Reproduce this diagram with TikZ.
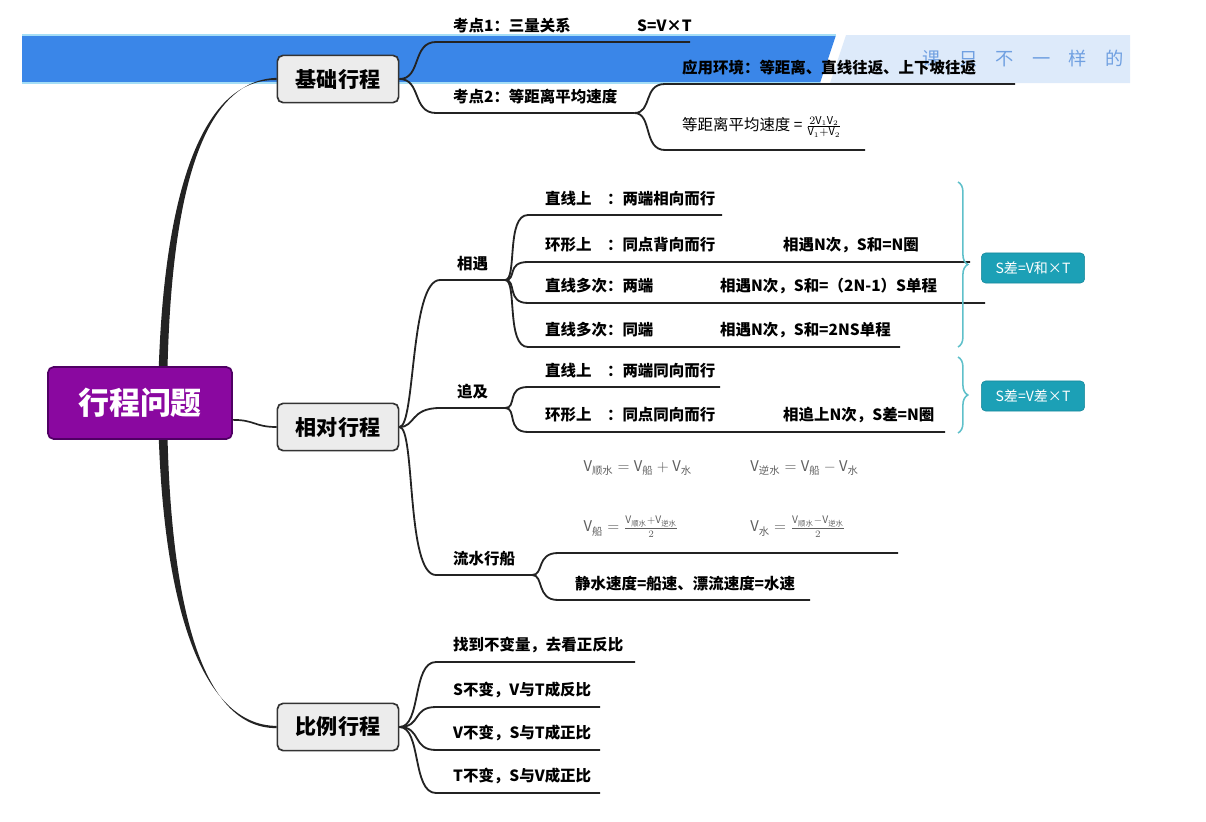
\documentclass[tikz,border=0pt]{standalone}
\usepackage{amsmath}
\usepackage{fontspec}
\setmainfont{Noto Sans CJK SC}
\usepackage{xcolor}
\usepackage{tikz}
\usetikzlibrary{positioning,calc,decorations.pathreplacing}

\definecolor{themepurple}{RGB}{138,8,160}
\definecolor{themedark}{RGB}{80,0,100}
\definecolor{boxgray}{RGB}{236,236,236}
\definecolor{linegray}{RGB}{35,35,35}
\definecolor{resteal}{RGB}{28,160,182}
\definecolor{braceteal}{RGB}{95,192,202}
\definecolor{bannerblue}{RGB}{58,134,232}
\definecolor{bannerlight}{RGB}{221,234,250}
\definecolor{bannerline}{RGB}{165,222,246}
\definecolor{wmblue}{RGB}{112,160,225}
\definecolor{formulagray}{RGB}{95,95,95}

\begin{document}
\begin{tikzpicture}[x=0.025cm, y=-0.025cm,
    topic/.style={rectangle, rounded corners=4pt, draw=black!80, line width=1.2pt, fill=boxgray, minimum width=3.03cm, minimum height=1.18cm, font=\fontsize{15}{15}\selectfont\bfseries},
    theme/.style={rectangle, rounded corners=4pt, draw=themedark, line width=1.2pt, fill=themepurple, text=white, minimum width=4.6cm, minimum height=1.8cm, font=\fontsize{22}{22}\selectfont\bfseries},
    leaf/.style={anchor=south west, inner xsep=12pt, inner ysep=6pt, font=\fontsize{11}{11}\selectfont\bfseries},
    formula/.style={anchor=south west, inner xsep=18pt, inner ysep=11pt, text=formulagray, font=\fontsize{10.5}{10.5}\selectfont, align=left},
    branch/.style={draw=linegray, line width=1.3pt},
    result/.style={rectangle, rounded corners=3pt, fill=resteal, draw=resteal!85!black, text=white, minimum width=2.58cm, minimum height=0.75cm, font=\fontsize{10}{10}\selectfont},
    bracket/.style={decorate, decoration={brace, amplitude=7pt}, draw=braceteal, line width=1.1pt}
]
\useasboundingbox (0,0) rectangle (1206,822);

% Banner
\fill[bannerblue] (22,35) -- (836,35) -- (820,83) -- (22,83) -- cycle;
\fill[bannerlight] (846,35) -- (1130,35) -- (1130,83) -- (830,83) -- cycle;
\draw[bannerline, line width=0.8pt] (22,35) -- (836,35) (22,83) -- (820,83);
\node[text=wmblue, font=\fontsize{13}{13}\selectfont] (wm) at (1023,59) {课\hspace{13pt}只\hspace{13pt}不\hspace{13pt}一\hspace{13pt}样\hspace{13pt}的};

% Topics
\node[topic] (jc) at (338,79) {基础行程};
\node[topic] (xd) at (338,427) {相对行程};
\node[topic] (bl) at (338,727) {比例行程};

% Trunk
\fill[linegray] (158,403) .. controls (160,200) and (200,77.5) .. ([yshift=-0.8pt]jc.west) -- ([yshift=0.8pt]jc.west) .. controls (200,80.5) and (168,200) .. (167,403) -- cycle;
\fill[linegray] (158,403) .. controls (160,600) and (200,725.5) .. ([yshift=0.8pt]bl.west) -- ([yshift=-0.8pt]bl.west) .. controls (200,728.5) and (168,600) .. (167,403) -- cycle;

\node[theme] (root) at (140,403) {行程问题};
\draw[branch, line width=1.2pt] ([yshift=-12pt]root.east) .. controls +(22,0) and +(-22,0) .. (xd.west);

% Basic
\node[leaf] (k1) at (436,42) {\makebox[4.6cm][l]{考点1：三量关系}S=V×T};
\node[leaf] (k2) at (436,113) {考点2：等距离平均速度};
\node[leaf] (app) at (665,84) {应用环境：等距离、直线往返、上下坡往返};
\node[leaf, font=\fontsize{11}{11}\selectfont, inner ysep=9pt] (avg) at (665,150) {等距离平均速度 = $\frac{2\mathrm{V}_1\mathrm{V}_2}{\mathrm{V}_1+\mathrm{V}_2}$};

\draw[branch] (jc.east) .. controls +(22,0) and +(-24,0) .. (k1.south west) -- ++(254,0);
\draw[branch] (jc.east) .. controls +(22,0) and +(-24,0) .. (k2.south west) -- (k2.south east);
\draw[branch] (k2.south east) .. controls +(18,0) and +(-22,0) .. (app.south west) -- ++(350,0);
\draw[branch] (k2.south east) .. controls +(18,0) and +(-22,0) .. (avg.south west) -- ++(200,0);

% Relative
\node[leaf] (xy) at (440,280) {相遇};
\node[leaf] (zj) at (440,408) {追及};
\node[leaf] (ls) at (436,575) {流水行船};

\node[leaf] (a1) at (528,215) {直线上　：两端相向而行};
\node[leaf] (a2) at (528,262) {\makebox[5.95cm][l]{环形上　：同点背向而行}相遇N次，S和=N圈};
\node[leaf] (a3) at (528,303) {\makebox[4.375cm][l]{直线多次：两端}相遇N次，S和=（2N-1）S单程};
\node[leaf] (a4) at (528,347) {\makebox[4.375cm][l]{直线多次：同端}相遇N次，S和=2NS单程};
\node[leaf] (b1) at (528,387) {直线上　：两端同向而行};
\node[leaf] (b2) at (528,432) {\makebox[5.95cm][l]{环形上　：同点同向而行}相追上N次，S差=N圈};
\node[formula] (c1) at (558,553) {\makebox[4.17cm][l]{$\mathrm{V}_{\text{顺水}} = \mathrm{V}_{\text{船}} + \mathrm{V}_{\text{水}}$}$\mathrm{V}_{\text{逆水}} = \mathrm{V}_{\text{船}} - \mathrm{V}_{\text{水}}$\\[28pt]
  \makebox[4.17cm][l]{$\mathrm{V}_{\text{船}} = \frac{\mathrm{V}_{\text{顺水}}+\mathrm{V}_{\text{逆水}}}{2}$}$\mathrm{V}_{\text{水}} = \frac{\mathrm{V}_{\text{顺水}}-\mathrm{V}_{\text{逆水}}}{2}$};
\node[leaf] (c2) at (558,600) {静水速度=船速、漂流速度=水速};

\draw[branch] (xd.east) .. controls +(16,0) and +(-30,0) .. (xy.south west) -- (xy.south east);
\draw[branch] (xd.east) .. controls +(16,0) and +(-30,0) .. (zj.south west) -- (zj.south east);
\draw[branch] (xd.east) .. controls +(16,0) and +(-30,0) .. (ls.south west) -- (ls.south east);

\draw[branch] (xy.south east) .. controls +(12,0) and +(-22,0) .. (a1.south west) -- ++(194,0);
\draw[branch] (xy.south east) .. controls +(12,0) and +(-22,0) .. (a2.south west) -- ++(442,0);
\draw[branch] (xy.south east) .. controls +(12,0) and +(-22,0) .. (a3.south west) -- ++(457,0);
\draw[branch] (xy.south east) .. controls +(12,0) and +(-22,0) .. (a4.south west) -- ++(372,0);
\draw[branch] (zj.south east) .. controls +(12,0) and +(-22,0) .. (b1.south west) -- ++(192,0);
\draw[branch] (zj.south east) .. controls +(12,0) and +(-22,0) .. (b2.south west) -- ++(417,0);
\draw[branch] (ls.south east) .. controls +(12,0) and +(-22,0) .. (c1.south west) -- ++(340,0);
\draw[branch] (ls.south east) .. controls +(12,0) and +(-22,0) .. (c2.south west) -- ++(252,0);

% Braces
\coordinate (br1a) at (958,182);
\coordinate (br1b) at (958,347);
\coordinate (br2a) at (958,357);
\coordinate (br2b) at (958,433);
\draw[bracket] (br1a) -- (br1b);
\draw[bracket] (br2a) -- (br2b);
\node[result] (s1) at (1033,268) {S差=V和×T};
\node[result] (s2) at (1033,396) {S差=V差×T};

% Ratio
\node[leaf] (r1) at (436,662) {找到不变量，去看正反比};
\node[leaf] (r2) at (436,707) {S不变，V与T成反比};
\node[leaf] (r3) at (436,750) {V不变，S与T成正比};
\node[leaf] (r4) at (436,793) {T不变，S与V成正比};

\draw[branch] (bl.east) .. controls +(22,0) and +(-24,0) .. (r1.south west) -- ++(199,0);
\draw[branch] (bl.east) .. controls +(22,0) and +(-24,0) .. (r2.south west) -- ++(164,0);
\draw[branch] (bl.east) .. controls +(22,0) and +(-24,0) .. (r3.south west) -- ++(164,0);
\draw[branch] (bl.east) .. controls +(22,0) and +(-24,0) .. (r4.south west) -- ++(164,0);

\end{tikzpicture}
\end{document}
